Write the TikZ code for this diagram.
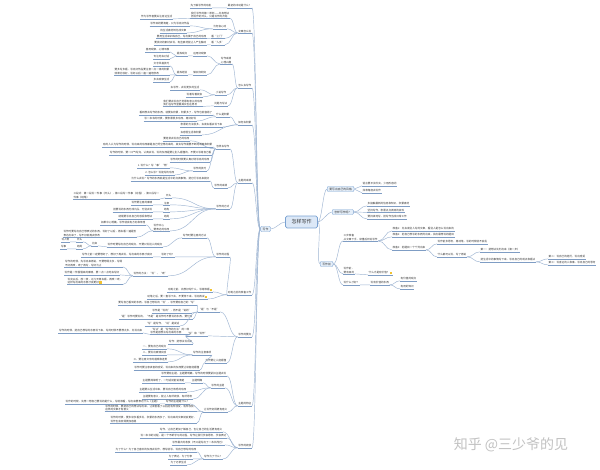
\documentclass[tikz,border=0pt]{standalone}
\usepackage{fontspec}
\newfontfamily\cjk{Noto Sans CJK SC}
\usetikzlibrary{calc}

\newcommand{\ico}{\,\textcolor{icon}{\rule[-0.1pt]{2.2pt}{2.2pt}}}

\begin{document}
\begin{tikzpicture}[
    x=1pt, y=-1pt,
    every node/.style={font=\cjk},
    topic/.style={font=\cjk\fontsize{2.6}{3.1}\selectfont, text=txt,
        inner xsep=0.5pt, inner ysep=0.45pt, align=left},
    lvbox/.style={font=\cjk\fontsize{2.8}{3.3}\selectfont, text=txt, fill=boxfill,
        draw=boxline, line width=0.4pt, rounded corners=1pt,
        inner xsep=2.2pt, inner ysep=1.2pt},
    rootbox/.style={font=\cjk\fontsize{5}{6}\selectfont, text=txt, fill=rootfill,
        draw=boxline, line width=0.7pt, rounded corners=1.5pt,
        inner xsep=6pt, inner ysep=3.6pt},
    link/.style={draw=linkc, line width=0.45pt},
    uline/.style={draw=ulinec, line width=0.5pt},
]

\definecolor{txt}{HTML}{333333}
\definecolor{boxfill}{HTML}{E4EEF9}
\definecolor{rootfill}{HTML}{DCE8F7}
\definecolor{boxline}{HTML}{7AA2D2}
\definecolor{linkc}{HTML}{9DB4D2}
\definecolor{ulinec}{HTML}{7F9DC4}
\definecolor{icon}{HTML}{F2C230}

\fill[white] (0,0) rectangle (600,470);
\useasboundingbox (0,0) rectangle (600,470);

% ---------------------------------------------------------------- centre
\node[rootbox] (R) at (301.5,222) {怎样写作};
\node[lvbox] (W) at (265.5,229) {写作};
\node[lvbox, anchor=west] (R1) at (327,189) {要写出自己的风格};
\node[lvbox, anchor=west] (R2) at (332,212) {怎样写作呢？};
\node[lvbox, anchor=west] (R3) at (320,264) {写作前};

\draw[link] (R.west) .. controls +(-5,0) and +(5,0) .. (W.east);
\foreach \b in {R1,R2,R3}
  \draw[link] (R.east) .. controls +(4,0) and +(-4,0) .. (\b.west);

% ---------------------------------------------------------------- left tree
\foreach \id/\from/\xx/\yy/\txt in {%
    L1/W.west/252/6/{最初的冲动是什么？},
    a1/L1.south west/212/6/{先了解写作的动机},
    L2/W.west/252/31/{文章怎么写},
    b1/L2.south west/230/15/{我们写作的第一原则——先有想法\\而写作的开头，只是写作的开始},
    b1a/b1.south west/173/17/{作为写作者要关注身边生活},
    b2/L2.south west/227/27/{为何会心动},
    b2a/b2.south west/190/24/{写作目的要清楚，只为写出好作品},
    b2b/b2.south west/187/31/{将生活素材转化成文章},
    b3/L2.south west/225/36.5/{看“上门”},
    b3a/b3.south west/207/36.5/{要用生活来训练自己，写出属于自己的东西},
    b4/L2.south west/225/43/{看“人多”},
    b4a/b4.south west/207/43/{要找好的素材去写，有些素材能让人产生触动},
    L3/W.west/252/86/{怎么去写作},
    c1/L3.south west/232/60.5/{写作来源\\心理兴趣},
    c1a/c1.south west/207/54/{运用好观察},
    c1a1/c1a.south west/188/54/{提炼观点},
    c1a1a/c1a1.south west/170/50/{善用观察，心情平静},
    c1a1b/c1a1.south west/170/57/{专注地去对话},
    c1b/c1.south west/207/73/{做实际研究},
    c1b1/c1b.south west/188/73/{提炼经验},
    c1b1a/c1b1.south west/170/64/{文字风格技巧},
    c1b1b/c1b1.south west/170/71.5/{要多写多看，写出好作品要注意一点一滴的积累\\效果比较好，写好以后一遍一遍地修改},
    c1b1c/c1b1.south west/170/80/{多去观察生活},
    c2/L3.south west/227/93/{小说写作},
    c2a/c2.south west/200/88/{去写作，去写更多的生活},
    c2b/c2.south west/203/95/{写着写着就会},
    c3/L3.south west/228/104/{问题与写法},
    c3a/c3.south west/203/103/{我们要去写自己觉得有意义的东西\\我们在写作里面其实也在思考},
    L4/W.west/252/123/{如何去积累},
    d1/L4.south west/230/115/{什么是积累},
    d1a/d1.south west/213/113/{看到想去写作的东西，就要去积累，积累多了，写作也就容易了},
    d1b/d1.south west/197/119/{写一本书的时候，要积累很多东西，再好好写},
    d2/L4.south west/223/125/{积累的方法很多，去读去看去写下来},
    d3/L4.south west/202/133/{去感悟生活和积累},
    L5/W.west/252/181/{主题的来源},
    e1/L5.south west/230/147/{怎样去写作},
    e1a/e1.south west/190/139/{要经常去写自己的东西},
    e1b/e1.south west/213/145/{有的人认为写作的时候，写出来的东西都是自己凭空想出来的，其实写作需要不断地观察和积累},
    e1c/e1.south west/212/153/{写作的时候，要一口气写完，认真去写，写的东西是要让别人看懂的，不要只写给自己看},
    e1d/e1.south west/210/160/{写作的时候要认真对待写出的东西},
    e1e/e1.south west/207/169/{写作的技巧},
    e1e1/e1e.south west/170/166/{1. 写什么？写“事”“物”},
    e1e2/e1e.south west/175/173/{2. 怎么写？写能写的东西},
    e2/L5.south west/228/186/{写作的来源},
    e2a/e2.south west/210/179/{为什么去写？写作的东西就是生活中的点滴事情，把它们写出来就好},
    e3/L5.south west/230/207/{写作的方式},
    f1/e3.south west/172/196/{开头},
    f1a/f1.south west/160/195.5/{三段式：第一段写一件事（开头），第二段写一件事（过程），第三段写一\\件事（结尾）},
    f2/e3.south west/170/203/{注意},
    f2a/f2.south west/153/203/{写作要注意的事情},
    f3/e3.south west/170/210/{结构},
    f3a/f3.south west/153/210/{把要写的东西分成几段，分别去写},
    f4/e3.south west/170/217/{结尾},
    f4a/f4.south west/153/217/{结尾要写出自己的感受和想法},
    f5/e3.south west/170/227.5/{写作中心\\要表达的东西},
    f5a/f5.south west/146/223/{如果中心明确，写作就会有方向和条理},
    f5b/f5.south west/137/233.5/{写作时要写出自己想表达的东西，写好了以后，再去看一遍是否\\表达出来了，写不好就再去修改},
    L6/W.west/252/293/{动笔之前的准备工作},
    s1/L6.south west/230/255/{写作的过程},
    s1a/s1.south west/207/236/{写作时要注意的方法},
    s1a1/s1a.south west/163/245/{写作时要写出自己的观点，不要只写别人的观点},
    s1a2/s1a1.south west/98/244/{比如},
    s1a3/s1a2.south west/83/240/{开头},
    s1a4/s1a3.south west/70/240/{写人物},
    s1a5/s1a2.south west/83/247/{结尾},
    s1a6/s1a5.south west/67/247/{写事},
    s1b/s1.south west/175/255/{写好了吗？},
    s1b1/s1b.south west/153/255/{写作之前一定要想好了，想好了再去写，写出来的东西才会好},
    s1c/s1.south west/168/274/{写作的方法：“写”、“改”},
    s1c1/s1c.south west/123/263.5/{写作的时候，先写出来再说，不要想得太多，写得\\不好再改，改了再写，写好为止},
    s1c2/s1c.south west/120/273/{写作是一件慢慢来的事情，要一点一点地去写好},
    s1c3/s1c.south west/123/281/{写完以后，放一放，过几天再去看，再改一改，\\这样写出来的东西才会更好\ico},
    h1/L6.south west/213/290/{动笔之前，先想好写什么，写给谁看\ico},
    h2/L6.south west/208/297/{动笔之后，要一直写下去，不要停下来，写完再说\ico},
    L7/W.west/252/335/{写作的要点},
    p1/L7.south west/220/310/{“是”与“不是”},
    p1a/p1.south west/197/303/{要写自己看到的东西，写自己想写的“写”，写作要有自己的“写”},
    p1b/p1.south west/192/311/{写作是“写的”，而不是“说的”},
    p1c/p1.south west/193/317/{“是”写作时要写的，“不是”是写作时不要写的东西，要分清},
    p1d/p1.south west/180/324/{“写”是写作，“说”是说话},
    p2/L7.south west/208/334/{“写”和“写作”},
    p2a/p2.south west/190/331/{“写法”是“写作的方法”的一种\\写作是把想法写出来的东西},
    p2a1/p2a.south west/143/331/{写作的时候，把自己想写的东西写下来，写的时候不要想太多，先写出来},
    p2b/p2.south west/193/342/{写作：把想法写出来},
    p3/L7.south west/227/361/{写作要让人能看懂},
    p3a/p3.south west/212/353/{写作的注意事项},
    p3a1/p3a.south west/167/347/{一、要有自己的观点},
    p3a2/p3a.south west/167/353/{二、要写出真情实感},
    p3a3/p3a.south west/168/360/{三、要注意文字的通顺和连贯},
    p3b/p3.south west/200/368/{写作时要注意读者的感受，写出来的东西要让读者能看懂},
    L8/W.west/252/404/{主题的特征},
    q1/L8.south west/227/374/{写作要有主题，主题要明确，写作的时候要紧扣主题去写},
    q2/L8.south west/225/386/{写作的主题},
    q2a/q2.south west/203/381/{主题明确},
    q2a1/q2a.south west/185/381/{主题要简单明了，一句话就能说清楚},
    q2b/q2.south west/187/390/{主题要从生活中来，要写自己熟悉的东西},
    q2c/q2.south west/193/397/{主题要有意义，能让人有所收获，有所思考},
    q3/L8.south west/228/410/{让写作变得更有意义},
    q3a/q3.south west/190/402/{写作的主题是什么？},
    q3a1/q3a.south west/160/402/{写作的时候，先想一想自己要写的是什么，写给谁看，写出来要表达什么（主题）},
    q3b/q3.south west/197/408/{写作的时候，要把自己的想法写出来，让读者看了以后能有所感受，有所收获，\\这样的文章才有意义},
    q3c/q3.south west/197/419.5/{写作的时候，要多读多看多写，积累的东西多了，写出来的文章就会更好，\\写作也会变得更加容易},
    L9/W.west/252/446/{写作的收获},
    t1/L9.south west/223/430/{写作，让自己更加了解自己，也让自己的生活更有意义},
    t2/L9.south west/227/436/{写一本书的过程，是一个不断学习的过程，写作让我们学会思考，学会表达},
    t3/L9.south west/225/443/{写作最大的收获（不只是写出了一本书而已）},
    t4/L9.south west/223/457/{写作为了什么？},
    t4a/t4.south west/197/450/{为了什么？为了自己喜欢的东西去写作，想写就写，写自己想写的东西},
    t4b/t4.south west/193/457/{为了表达，为了分享},
    t4c/t4.south west/187/463/{为了记录生活}} {
  \node[topic, anchor=east] (\id) at (\xx,\yy) {\txt};
  \draw[uline] (\id.south west) -- (\id.south east);
  \draw[link] let \p1=(\from), \p2=(\id.south east),
      \n1={max(2pt,(\x1-\x2)/2)} in
      (\p1) .. controls +(-\n1,0) and +(\n1,0) .. (\p2);
}

% ---------------------------------------------------------------- right tree
\foreach \id/\from/\xx/\yy/\txt in {%
    r11/R1.east/362/184/{语言要平淡朴实，少用形容词},
    r12/R1.east/362/191/{找准角度去写作},
    r21/R2.east/367/204/{多接触最新的信息和知识，积累素材},
    r22/R2.east/367/210.5/{坚持写作，积累点点滴滴的资料},
    r23/R2.east/367/217/{要持续地写，把写作当成日常工作},
    r31/R3.east/343/237.5/{三步准备\\从文章下手，读懂后开始写作},
    r311/r31.south east/392/229/{准备1：先去读别人写的文章，看别人是怎么写出来的},
    r312/r31.south east/392/235/{准备2：把自己想写的东西列出来，找出最想写的题目},
    r313/r31.south east/392/248/{准备3：把题目一个个列出来},
    r3131/r313.south east/437/242/{写作前多思考，再动笔，写的时候就不会乱},
    r3132/r313.south east/437/255/{什么都可以写，写了再说},
    r3132a/r3132.south east/480/250/{第一：把想法先列出来（第一步）},
    r3132b/r3132.south east/480/260/{把生活中的事情写下来，写出自己的观点和看法},
    r3132c/r3132b.south east/548/257/{第二：写自己的经历，写出感受},
    r3132d/r3132b.south east/548/263/{第三：写身边的人和事，写出自己的思考},
    r32/R3.east/343/270.5/{写作前，\\要有目的},
    r321/r32.south east/368/273/{什么才是有价值？\ico},
    r33/R3.east/343/283/{写什么才好？},
    r331/r33.south east/370/283/{写有价值的东西},
    r3311/r331.south east/400/279/{有价值的观点},
    r3312/r331.south east/400/287/{有用的知识}} {
  \node[topic, anchor=west] (\id) at (\xx,\yy) {\txt};
  \draw[uline] (\id.south west) -- (\id.south east);
  \draw[link] let \p1=(\from), \p2=(\id.south west),
      \n1={max(2pt,(\x2-\x1)/2)} in
      (\p1) .. controls +(\n1,0) and +(-\n1,0) .. (\p2);
}

% watermark
\node[font=\cjk\fontsize{14}{14}\selectfont, text=black!24] (wm) at (511,445)
    {知乎 @三少爷的见};

\end{tikzpicture}
\end{document}
